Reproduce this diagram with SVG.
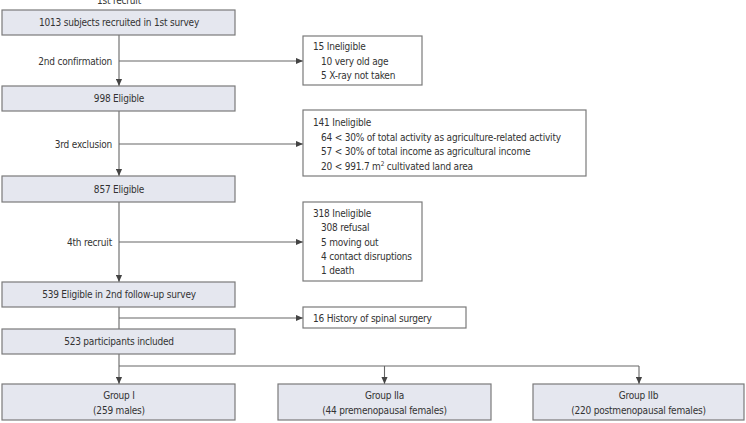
<svg xmlns="http://www.w3.org/2000/svg" width="746" height="423" viewBox="0 0 746 423">
<defs>
<style>
text{font-family:"DejaVu Sans Condensed","Liberation Sans Narrow",sans-serif;font-size:10px;letter-spacing:-0.2px;fill:#333}
.c{text-anchor:middle}
.r{text-anchor:end}
.main{fill:#e5e7ef;stroke:#7a7a7a;stroke-width:1.2}
.side{fill:#fff;stroke:#7a7a7a;stroke-width:1.2}
.ln{fill:none;stroke:#666;stroke-width:1.1}
</style>
<marker id="ah" viewBox="0 0 8 8" refX="8" refY="4" markerWidth="7" markerHeight="7" markerUnits="userSpaceOnUse" orient="auto">
<path d="M0,0.5 L8,4 L0,7.5 z" fill="#444"/>
</marker>
</defs>
<rect width="746" height="423" fill="#fff"/>
<text class="c" x="119" y="3.5">1st recruit</text>
<g id="connectors">
<line class="ln" x1="119" y1="35" x2="119" y2="86" marker-end="url(#ah)"/>
<line class="ln" x1="119" y1="61" x2="303" y2="61" marker-end="url(#ah)"/>
<line class="ln" x1="119" y1="111" x2="119" y2="176" marker-end="url(#ah)"/>
<line class="ln" x1="119" y1="144" x2="303" y2="144" marker-end="url(#ah)"/>
<line class="ln" x1="119" y1="202" x2="119" y2="282" marker-end="url(#ah)"/>
<line class="ln" x1="119" y1="242" x2="303" y2="242" marker-end="url(#ah)"/>
<line class="ln" x1="119" y1="307" x2="119" y2="329"/>
<line class="ln" x1="119" y1="318" x2="303" y2="318" marker-end="url(#ah)"/>
<line class="ln" x1="119" y1="354" x2="119" y2="384" marker-end="url(#ah)"/>
<line class="ln" x1="119" y1="366" x2="639" y2="366"/>
<line class="ln" x1="384.5" y1="366" x2="384.5" y2="384" marker-end="url(#ah)"/>
<line class="ln" x1="639" y1="366" x2="639" y2="384" marker-end="url(#ah)"/>
</g>
<g id="labels">
<text class="r" x="112" y="64.5">2nd confirmation</text>
<text class="r" x="112" y="147.5">3rd exclusion</text>
<text class="r" x="112" y="245.5">4th recruit</text>
</g>
<g id="n1013">
<rect class="main" x="2" y="10" width="233" height="25"/>
<text class="c" x="119" y="26">1013 subjects recruited in 1st survey</text>
</g>
<g id="n15">
<rect class="side" x="303" y="36" width="119" height="49"/>
<text x="313" y="50">15 Ineligible</text>
<text x="321" y="64.5">10 very old age</text>
<text x="321" y="78.5">5 X-ray not taken</text>
</g>
<g id="n998">
<rect class="main" x="2" y="86" width="233" height="25"/>
<text class="c" x="119" y="102">998 Eligible</text>
</g>
<g id="n141">
<rect class="side" x="303" y="110" width="283" height="66"/>
<text x="313" y="125.5">141 Ineligible</text>
<text x="321" y="140.5">64 &lt; 30% of total activity as agriculture-related activity</text>
<text x="321" y="155">57 &lt; 30% of total income as agricultural income</text>
<text x="321" y="169.5">20 &lt; 991.7 m<tspan dy="-4" font-size="6.5">2</tspan><tspan dy="4"> cultivated land area</tspan></text>
</g>
<g id="n857">
<rect class="main" x="2" y="176" width="233" height="26"/>
<text class="c" x="119" y="192.5">857 Eligible</text>
</g>
<g id="n318">
<rect class="side" x="303" y="202" width="119" height="79"/>
<text x="313" y="216.5">318 Ineligible</text>
<text x="321" y="230.5">308 refusal</text>
<text x="321" y="245.5">5 moving out</text>
<text x="321" y="259.5">4 contact disruptions</text>
<text x="321" y="273.5">1 death</text>
</g>
<g id="n539">
<rect class="main" x="2" y="282" width="233" height="25"/>
<text class="c" x="119" y="298">539 Eligible in 2nd follow-up survey</text>
</g>
<g id="n16">
<rect class="side" x="303" y="307" width="163" height="21"/>
<text x="313" y="321.5">16 History of spinal surgery</text>
</g>
<g id="n523">
<rect class="main" x="2" y="329" width="233" height="25"/>
<text class="c" x="119" y="345">523 participants included</text>
</g>
<g id="g1">
<rect class="main" x="2" y="384" width="233" height="36"/>
<text class="c" x="119" y="398.5">Group I</text>
<text class="c" x="119" y="413.5">(259 males)</text>
</g>
<g id="g2a">
<rect class="main" x="278" y="384" width="213" height="36"/>
<text class="c" x="384.5" y="398.5">Group IIa</text>
<text class="c" x="384.5" y="413.5">(44 premenopausal females)</text>
</g>
<g id="g2b">
<rect class="main" x="533" y="384" width="211" height="36"/>
<text class="c" x="638.5" y="398.5">Group IIb</text>
<text class="c" x="638.5" y="413.5">(220 postmenopausal females)</text>
</g>
</svg>
